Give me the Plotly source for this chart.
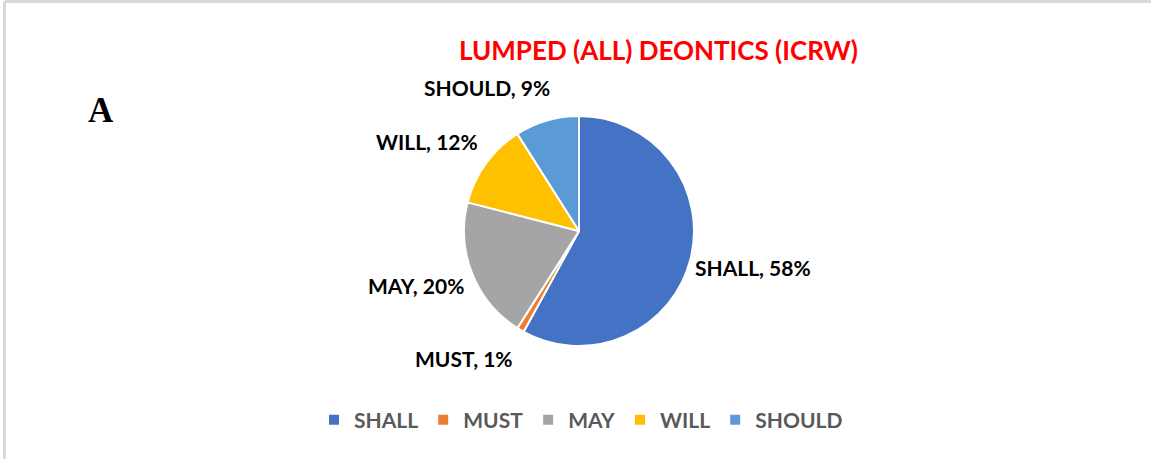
import plotly.graph_objects as go

# Share of each deontic term across the ICRW text
categories = ["SHALL", "MUST", "MAY", "WILL", "SHOULD"]
shares = [58, 1, 20, 12, 9]
colors = ["#4472C4", "#ED7D31", "#A5A5A5", "#FFC000", "#5B9BD5"]

W, H = 1151, 459
LABEL_FONT = dict(family="Lato, 'Open Sans', sans-serif", size=21, color="#000000")

# pie centre and radius in pixels
cx, cy, r = 579, 231, 115

fig = go.Figure(
    go.Pie(
        labels=categories,
        values=shares,
        sort=False,
        direction="clockwise",
        rotation=0,
        marker=dict(colors=colors, line=dict(color="#FFFFFF", width=2)),
        textinfo="none",
        hoverinfo="label+percent",
        domain=dict(x=[(cx - r) / W, (cx + r) / W],
                    y=[(H - cy - r) / H, (H - cy + r) / H]),
        showlegend=True,
    )
)

# outside data labels (pixel anchor of each label's centre)
label_pos = {
    "SHALL": (753, 267),
    "MUST": (464, 358),
    "MAY": (416, 285),
    "WILL": (427, 141),
    "SHOULD": (487, 87),
}
annotations = []
for cat, val in zip(categories, shares):
    px, py = label_pos[cat]
    annotations.append(dict(
        text=f"<b>{cat}, {val}%</b>",
        x=px / W, y=1 - py / H, xref="paper", yref="paper",
        xanchor="center", yanchor="middle", showarrow=False,
        font=LABEL_FONT,
    ))

# chart title
annotations.append(dict(
    text="<b>LUMPED (ALL) DEONTICS (ICRW)</b>",
    x=658 / W, y=1 - 50 / H, xref="paper", yref="paper",
    xanchor="center", yanchor="middle", showarrow=False,
    font=dict(family="Lato, 'Open Sans', sans-serif", size=26, color="#FF0000"),
))

# panel letter
annotations.append(dict(
    text="<b>A</b>",
    x=101 / W, y=1 - 110 / H, xref="paper", yref="paper",
    xanchor="center", yanchor="middle", showarrow=False,
    font=dict(family="'Liberation Serif', 'DejaVu Serif', serif", size=35, color="#000000"),
))

# light grey frame along top and left edges
shapes = [
    dict(type="line", xref="paper", yref="paper",
         x0=4.5 / W, x1=1, y0=1 - 1.5 / H, y1=1 - 1.5 / H,
         line=dict(color="#D9D9D9", width=3)),
    dict(type="line", xref="paper", yref="paper",
         x0=4.5 / W, x1=4.5 / W, y0=0, y1=1 - 1.5 / H,
         line=dict(color="#D9D9D9", width=3)),
]

fig.update_layout(
    width=W, height=H,
    margin=dict(l=0, r=0, t=0, b=0),
    paper_bgcolor="#FFFFFF",
    plot_bgcolor="#FFFFFF",
    annotations=annotations,
    shapes=shapes,
    legend=dict(
        orientation="h",
        x=581 / W, xanchor="center",
        y=1 - 420 / H, yanchor="middle",
        font=dict(family="Lato, 'Open Sans', sans-serif", size=21,
                  color="#595959", weight="bold"),
        itemwidth=30,
        tracegroupgap=0,
        traceorder="normal",
    ),
)

fig.write_html("out.html")
